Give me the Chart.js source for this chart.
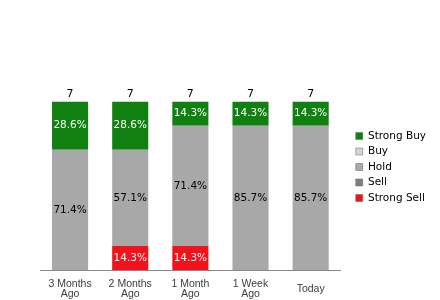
<!DOCTYPE html>
<html>
<head>
<meta charset="utf-8">
<script src="https://cdn.jsdelivr.net/npm/chart.js@4.4.0/dist/chart.umd.min.js"></script>
<style>
    body { margin: 0; background: #fff; }
    #wrap { width: 440px; height: 300px; }
</style>
</head>
<body>
<div id="wrap"><canvas id="grafico"></canvas></div>
<script>
const categorias = [['3 Months', 'Ago'], ['2 Months', 'Ago'], ['1 Month', 'Ago'], ['1 Week', 'Ago'], 'Today'];
const strongSell = [0, 1, 1, 0, 0];
const sell = [0, 0, 0, 0, 0];
const hold = [5, 4, 5, 6, 6];
const buy = [0, 0, 0, 0, 0];
const strongBuy = [2, 2, 1, 1, 1];

const totales = categorias.map((c, i) => strongSell[i] + sell[i] + hold[i] + buy[i] + strongBuy[i]);

const etiquetas = {
    id: 'etiquetas',
    afterLayout(chart) {
        // separar la leyenda del area del grafico
        chart.legend.left += 10;
        chart.legend.right += 10;
        chart.legend.top += 1;
        chart.legend.bottom += 1;
    },
    afterDatasetsDraw(chart) {
        const ctx = chart.ctx;
        ctx.save();
        ctx.textAlign = 'center';
        ctx.textBaseline = 'middle';
        ctx.font = '10.5px "DejaVu Sans"';
        chart.data.datasets.forEach((ds, d) => {
            const meta = chart.getDatasetMeta(d);
            meta.data.forEach((bar, i) => {
                const v = ds.data[i];
                if (!v) return;
                const pct = (v / totales[i] * 100).toFixed(1) + '%';
                ctx.fillStyle = ds.textColor;
                ctx.fillText(pct, bar.x, (bar.y + bar.base) / 2);
            });
        });
        // totales arriba
        const ultimo = chart.getDatasetMeta(chart.data.datasets.length - 1);
        ctx.fillStyle = '#000';
        ctx.font = '11px "DejaVu Sans"';
        ctx.textBaseline = 'bottom';
        ultimo.data.forEach((bar, i) => {
            const y = chart.scales.y.getPixelForValue(totales[i]);
            ctx.fillText(totales[i], bar.x, y - 2);
        });
        ctx.restore();
    }
};

const ctx = document.querySelector('#grafico').getContext('2d');
const myChart = new Chart(ctx, {
    type: 'bar',
    data: {
        labels: categorias,
        datasets: [
            { label: 'Strong Sell', data: strongSell, backgroundColor: '#f2121c', textColor: '#fff' },
            { label: 'Sell', data: sell, backgroundColor: '#7f7f7f', textColor: '#fff' },
            { label: 'Hold', data: hold, backgroundColor: '#a8a8a8', textColor: '#000' },
            { label: 'Buy', data: buy, backgroundColor: '#d4d4d4', textColor: '#000' },
            { label: 'Strong Buy', data: strongBuy, backgroundColor: '#108010', textColor: '#fff' }
        ]
    },
    options: {
        responsive: true,
        maintainAspectRatio: false,
        animation: false,
        layout: { padding: { top: 32, left: 40, right: 14, bottom: 0 } },
        datasets: { bar: { categoryPercentage: 1, barPercentage: 0.6 } },
        scales: {
            x: {
                stacked: true,
                grid: { display: false, drawTicks: false },
                border: { display: true, color: '#888' },
                afterFit(scale) { scale.height = 30; },
                ticks: { color: '#3c3c3c', font: { family: '"Liberation Sans"', size: 10.5, lineHeight: 1.0 }, padding: 14, maxRotation: 0, crossAlign: 'center' }
            },
            y: {
                stacked: true,
                display: false,
                min: 0,
                max: 9.9
            }
        },
        plugins: {
            legend: {
                position: 'right',
                reverse: true,
                labels: {
                    boxWidth: 7,
                    boxHeight: 7,
                    padding: 5,
                    color: '#000',
                    font: { family: '"DejaVu Sans"', size: 10.5 },
                    generateLabels(chart) {
                        return chart.data.datasets.map((ds, i) => ({
                            text: ds.label,
                            fillStyle: ds.backgroundColor,
                            strokeStyle: '#666',
                            lineWidth: 0.5,
                            datasetIndex: i,
                            hidden: false
                        }));
                    }
                }
            },
            tooltip: { enabled: false }
        }
    },
    plugins: [etiquetas]
});
</script>
</body>
</html>
